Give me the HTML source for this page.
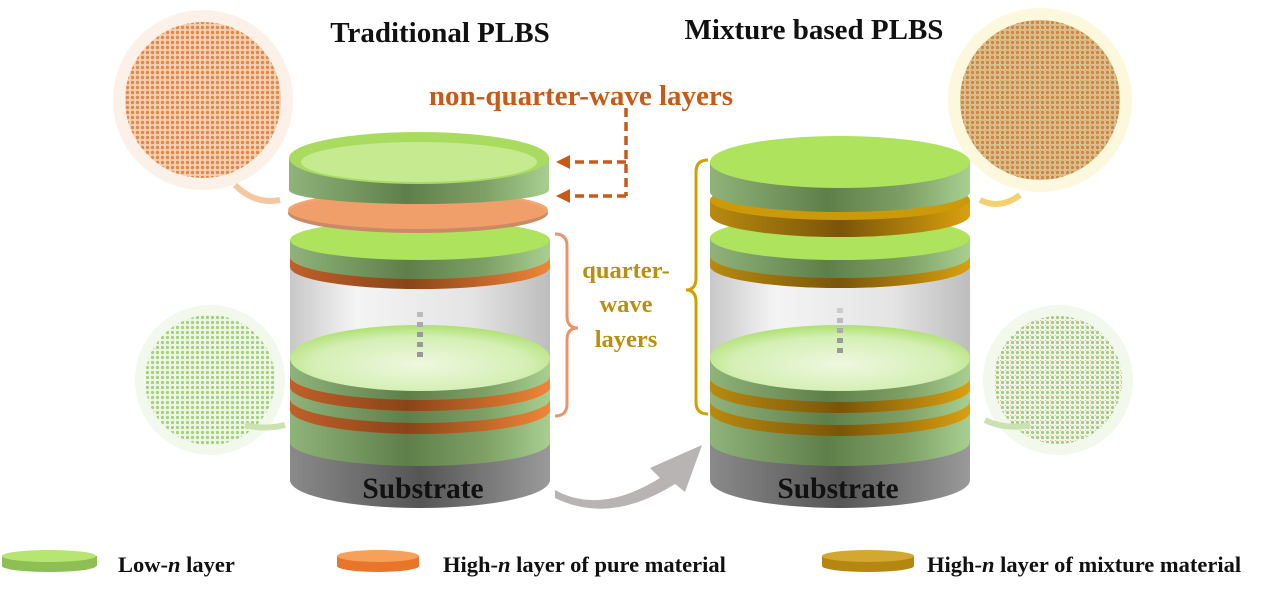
<!DOCTYPE html>
<html><head><meta charset="utf-8"><style>
html,body{margin:0;padding:0;background:#fff;}
svg{display:block;}
text{font-family:"Liberation Serif",serif;font-weight:bold;}
</style></head><body>
<svg width="1267" height="592" viewBox="0 0 1267 592" xmlns="http://www.w3.org/2000/svg">
<defs>
<linearGradient id="gside" x1="0" x2="1"><stop offset="0" stop-color="#8fb37a"/><stop offset="0.45" stop-color="#5f7f4a"/><stop offset="0.75" stop-color="#7ea066"/><stop offset="1" stop-color="#a8cf90"/></linearGradient>
<linearGradient id="oside" x1="0" x2="1"><stop offset="0" stop-color="#c0602a"/><stop offset="0.45" stop-color="#8a4418"/><stop offset="1" stop-color="#f08538"/></linearGradient>
<linearGradient id="yside" x1="0" x2="1"><stop offset="0" stop-color="#b88a10"/><stop offset="0.5" stop-color="#7a5508"/><stop offset="1" stop-color="#d9a010"/></linearGradient>
<linearGradient id="sside" x1="0" x2="1"><stop offset="0" stop-color="#8a8a8a"/><stop offset="0.5" stop-color="#555"/><stop offset="1" stop-color="#9a9a9a"/></linearGradient>
<linearGradient id="glass" x1="0" x2="1"><stop offset="0" stop-color="#c8c8c8"/><stop offset="0.25" stop-color="#f4f4f4"/><stop offset="0.7" stop-color="#e4e4e4"/><stop offset="1" stop-color="#bdbdbd"/></linearGradient>
<radialGradient id="gtop" cx="0.5" cy="0.6" r="0.6"><stop offset="0" stop-color="#eef8df"/><stop offset="0.7" stop-color="#d4efb4"/><stop offset="1" stop-color="#aee070"/></radialGradient>
<pattern id="po" width="5" height="5" patternUnits="userSpaceOnUse"><rect width="5" height="5" fill="#f6d0b0"/><circle cx="2.5" cy="2.5" r="1.7" fill="#dc8a50"/></pattern>
<pattern id="pg" width="5" height="5" patternUnits="userSpaceOnUse"><rect width="5" height="5" fill="#eef7e4"/><circle cx="2.5" cy="2.5" r="1.6" fill="#a6cf80"/></pattern>
<pattern id="pm" width="5" height="5" patternUnits="userSpaceOnUse"><rect width="5" height="5" fill="#e2c090"/><circle cx="2.5" cy="2.5" r="1.7" fill="#c88a48"/><circle cx="0" cy="0" r="1" fill="#a8b850"/></pattern>
<pattern id="pm2" width="5" height="5" patternUnits="userSpaceOnUse"><rect width="5" height="5" fill="#f2f6e8"/><circle cx="2.5" cy="2.5" r="1.6" fill="#a8c888"/><circle cx="0" cy="0" r="1" fill="#d8b080"/></pattern>
</defs>

<circle cx="203" cy="100" r="90" fill="#fbeee4" opacity="0.8"/>
<circle cx="203" cy="100" r="78" fill="url(#po)"/>
<path d="M235 185 Q255 205 280 200" fill="none" stroke="#f3c8a0" stroke-width="6"/>
<circle cx="210" cy="380" r="75" fill="#f2f8ec"/>
<circle cx="210" cy="380" r="65" fill="url(#pg)"/>
<path d="M245 425 Q265 430 285 425" fill="none" stroke="#c9e2b0" stroke-width="6"/>
<circle cx="1040" cy="100" r="92" fill="#fbf8dd"/>
<circle cx="1040" cy="100" r="80" fill="url(#pm)"/>
<path d="M1020 195 Q1000 210 980 200" fill="none" stroke="#f5d070" stroke-width="6"/>
<circle cx="1058" cy="380" r="75" fill="#f2f8ec"/>
<circle cx="1058" cy="380" r="64" fill="url(#pm2)"/>
<path d="M1030 425 Q1005 430 985 420" fill="none" stroke="#c9e2b0" stroke-width="6"/>

<g>
<rect x="290" y="440" width="260" height="40" fill="url(#sside)"/>
<ellipse cx="420" cy="480" rx="130" ry="28" fill="url(#sside)"/>
<rect x="290" y="410" width="260" height="32" fill="url(#gside)"/>
<ellipse cx="420" cy="442" rx="130" ry="24" fill="url(#gside)"/>
<rect x="290" y="399" width="260" height="11" fill="url(#oside)"/><ellipse cx="420" cy="410" rx="130" ry="24" fill="url(#oside)"/>
<rect x="290" y="387" width="260" height="12" fill="url(#gside)"/><ellipse cx="420" cy="399" rx="130" ry="24" fill="url(#gside)"/>
<rect x="290" y="376" width="260" height="11" fill="url(#oside)"/><ellipse cx="420" cy="387" rx="130" ry="24" fill="url(#oside)"/>
<rect x="290" y="358" width="260" height="18" fill="url(#gside)"/><ellipse cx="420" cy="376" rx="130" ry="24" fill="url(#gside)"/>
<rect x="290" y="260" width="260" height="98" fill="url(#glass)"/>
<ellipse cx="420" cy="358" rx="130" ry="33" fill="url(#gtop)"/>
<rect x="417" y="312" width="6" height="5" fill="#bbb"/><rect x="417" y="322" width="6" height="5" fill="#aaa"/><rect x="417" y="332" width="6" height="5" fill="#999"/><rect x="417" y="342" width="6" height="5" fill="#999"/><rect x="417" y="352" width="6" height="5" fill="#999"/>
<rect x="290" y="257" width="260" height="10" fill="url(#oside)"/><ellipse cx="420" cy="267" rx="130" ry="22" fill="url(#oside)"/>
<rect x="290" y="240" width="260" height="17" fill="url(#gside)"/><ellipse cx="420" cy="257" rx="130" ry="22" fill="url(#gside)"/>
<ellipse cx="420" cy="240" rx="130" ry="20" fill="#ade35d"/>
<ellipse cx="418" cy="213" rx="130" ry="20" fill="#c98a68"/>
<ellipse cx="418" cy="210" rx="130" ry="19" fill="#f2a06a" opacity="0.95"/>
<rect x="289" y="158" width="260" height="32" fill="url(#gside)"/>
<ellipse cx="419" cy="190" rx="130" ry="14" fill="url(#gside)"/>
<ellipse cx="419" cy="158" rx="130" ry="26" fill="#a8db60"/>
<ellipse cx="419" cy="162" rx="118" ry="20" fill="#c6ea90"/>
</g>

<g>
<rect x="710" y="440" width="260" height="40" fill="url(#sside)"/>
<ellipse cx="840" cy="480" rx="130" ry="28" fill="url(#sside)"/>
<rect x="710" y="412" width="260" height="30" fill="url(#gside)"/><ellipse cx="840" cy="442" rx="130" ry="24" fill="url(#gside)"/>
<rect x="710" y="401" width="260" height="11" fill="url(#yside)"/><ellipse cx="840" cy="412" rx="130" ry="24" fill="url(#yside)"/>
<rect x="710" y="389" width="260" height="12" fill="url(#gside)"/><ellipse cx="840" cy="401" rx="130" ry="24" fill="url(#gside)"/>
<rect x="710" y="378" width="260" height="11" fill="url(#yside)"/><ellipse cx="840" cy="389" rx="130" ry="24" fill="url(#yside)"/>
<rect x="710" y="358" width="260" height="20" fill="url(#gside)"/><ellipse cx="840" cy="378" rx="130" ry="24" fill="url(#gside)"/>
<rect x="710" y="262" width="260" height="96" fill="url(#glass)"/>
<ellipse cx="840" cy="358" rx="130" ry="33" fill="url(#gtop)"/>
<rect x="837" y="308" width="6" height="5" fill="#ccc"/><rect x="837" y="318" width="6" height="5" fill="#bbb"/><rect x="837" y="328" width="6" height="5" fill="#aaa"/><rect x="837" y="338" width="6" height="5" fill="#999"/><rect x="837" y="348" width="6" height="5" fill="#999"/>
<rect x="710" y="256" width="260" height="10" fill="url(#yside)"/><ellipse cx="840" cy="266" rx="130" ry="22" fill="url(#yside)"/>
<rect x="710" y="238" width="260" height="18" fill="url(#gside)"/><ellipse cx="840" cy="256" rx="130" ry="22" fill="url(#gside)"/>
<ellipse cx="840" cy="238" rx="130" ry="22" fill="#ade35d"/>
<rect x="710" y="200" width="260" height="15" fill="url(#yside)"/><ellipse cx="840" cy="215" rx="130" ry="22" fill="url(#yside)"/>
<ellipse cx="840" cy="200" rx="130" ry="20" fill="#cc9a08"/>
<rect x="710" y="162" width="260" height="30" fill="url(#gside)"/><ellipse cx="840" cy="192" rx="130" ry="20" fill="url(#gside)"/>
<ellipse cx="840" cy="162" rx="130" ry="26" fill="#ade35d"/>
</g>

<text x="423" y="498" font-size="29.5" text-anchor="middle" fill="#111">Substrate</text>
<text x="838" y="498" font-size="29.5" text-anchor="middle" fill="#111">Substrate</text>

<path d="M555 490 Q600 515 660 478 L650 468 L702 445 L685 492 L675 484 Q610 525 555 498 Z" fill="#b8b4b4"/>

<g stroke="#c85a18" stroke-width="3.5" fill="none" stroke-dasharray="9,5">
<path d="M626 108 V196"/><path d="M626 162 H566"/><path d="M626 196 H566"/>
</g>
<path d="M556 162 L570 155 L570 169 Z" fill="#c85a18"/>
<path d="M556 196 L570 189 L570 203 Z" fill="#c85a18"/>

<path d="M555 234 Q567 234 567 246 V316 Q567 328 578 328 Q567 328 567 340 V404 Q567 416 555 416" fill="none" stroke="#e8956a" stroke-width="3"/>
<path d="M708 160 Q696 160 696 172 V278 Q696 290 686 290 Q696 290 696 302 V402 Q696 414 708 414" fill="none" stroke="#d1a000" stroke-width="3"/>

<text x="440" y="42" font-size="29" text-anchor="middle" fill="#111">Traditional PLBS</text>
<text x="814" y="39" font-size="29" text-anchor="middle" fill="#111">Mixture based PLBS</text>
<text x="581" y="105" font-size="29" text-anchor="middle" fill="#c85a18">non-quarter-wave layers</text>
<text x="626" y="278" font-size="24.5" text-anchor="middle" fill="#b8900a">quarter-</text>
<text x="626" y="312" font-size="24.5" text-anchor="middle" fill="#b8900a">wave</text>
<text x="626" y="347" font-size="24.5" text-anchor="middle" fill="#b8900a">layers</text>

<rect x="2" y="556" width="95" height="10" fill="#8dbf55"/><ellipse cx="49" cy="566" rx="47" ry="6" fill="#8dbf55"/><ellipse cx="49" cy="556" rx="47" ry="6" fill="#b6e572"/>
<text x="118" y="572" font-size="22.5" fill="#111">Low-<tspan font-style="italic">n</tspan> layer</text>
<rect x="337" y="556" width="82" height="10" fill="#e8752a"/><ellipse cx="378" cy="566" rx="41" ry="6" fill="#e8752a"/><ellipse cx="378" cy="556" rx="41" ry="6" fill="#f6a05a"/>
<text x="443" y="572" font-size="22.5" fill="#111">High-<tspan font-style="italic">n</tspan> layer of pure material</text>
<rect x="822" y="556" width="92" height="10" fill="#b48810"/><ellipse cx="868" cy="566" rx="46" ry="6" fill="#b48810"/><ellipse cx="868" cy="556" rx="46" ry="6" fill="#d3a830"/>
<text x="927" y="572" font-size="22.5" fill="#111">High-<tspan font-style="italic">n</tspan> layer of mixture material</text>
</svg>
</body></html>
